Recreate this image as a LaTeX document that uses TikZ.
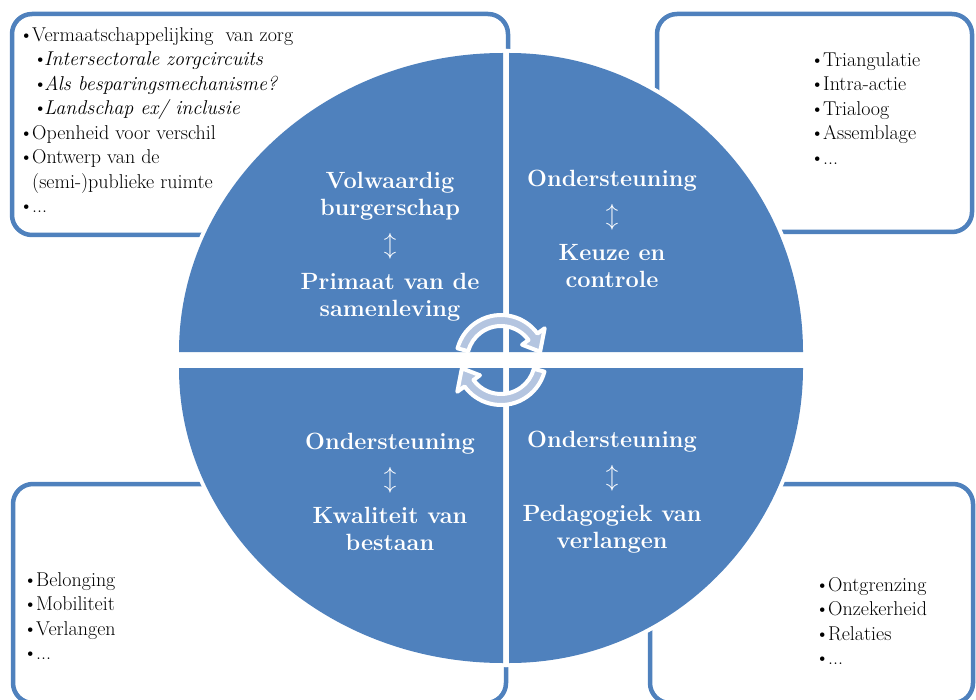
\documentclass[tikz,border=0pt]{standalone}
\usepackage{tikz}
\definecolor{quadblue}{HTML}{4F81BD}
\definecolor{cycleblue}{HTML}{B4C5E0}
\newcommand{\blt}{\makebox[13pt][l]{\textbullet}}
\newcommand{\subblt}{\hspace*{14pt}\makebox[11pt][l]{\textbullet}}
\begin{document}
\begin{tikzpicture}[x=1pt,y=-1pt]
	\tikzstyle{list box}=[draw=quadblue,line width=4.5pt,rounded corners=20pt,fill=white]
	\tikzstyle{quadrant}=[fill=quadblue,preaction={draw=white,line width=8pt}]
	\tikzstyle{quad label}=[text=white,font=\fontsize{23.5}{27}\selectfont\bfseries,align=center]
	\tikzstyle{bullet list}=[font=\fontsize{20}{24.5}\selectfont,align=left,inner sep=0pt,anchor=north west]
	\tikzstyle{cycle arrow}=[fill=cycleblue,draw=white,line width=4pt,line join=round]
	\useasboundingbox (0,0) rectangle (976,700);
	% list boxes behind the circle
	\draw[list box] (12,14) rectangle (508,235);
	\draw[list box] (657,14) rectangle (972,232);
	\draw[list box] (13,484) rectangle (506,703);
	\draw[list box] (650,484) rectangle (973,703);
	% four quadrants
	\fill[quadrant] (503,352) -- (179,352) arc[start angle=180,end angle=90,x radius=324pt,y radius=299pt] -- cycle;
	\fill[quadrant] (509,352) -- (509,53) arc[start angle=90,end angle=0,x radius=294pt,y radius=299pt] -- cycle;
	\fill[quadrant] (503,368) -- (503,663) arc[start angle=270,end angle=180,x radius=324pt,y radius=295pt] -- cycle;
	\fill[quadrant] (509,368) -- (803,368) arc[start angle=0,end angle=-90,x radius=294pt,y radius=295pt] -- cycle;
	% cycle arrows
	\coordinate (hub) at (501,360);
	\begin{scope}[shift={(hub)}]
		\path[cycle arrow] (165:45pt) arc[start angle=165,end angle=36,radius=45pt] -- (36:54pt) -- (12:40pt) -- (36:26pt) -- (36:34pt) arc[start angle=36,end angle=165,radius=34pt] -- cycle;
	\end{scope}
	\begin{scope}[shift={(hub)},rotate=180]
		\path[cycle arrow] (165:45pt) arc[start angle=165,end angle=36,radius=45pt] -- (36:54pt) -- (12:40pt) -- (36:26pt) -- (36:34pt) arc[start angle=36,end angle=165,radius=34pt] -- cycle;
	\end{scope}
	% quadrant labels
	\node[quad label] (citizen) at (390,247) {Volwaardig\\burgerschap\\[10pt]$\updownarrow$\\[10pt]Primaat van de\\samenleving};
	\node[quad label] (choice) at (612,229) {Ondersteuning\\[10pt]$\updownarrow$\\[10pt]Keuze en\\controle};
	\node[quad label] (quality) at (390,492) {Ondersteuning\\[10pt]$\updownarrow$\\[10pt]Kwaliteit van\\bestaan};
	\node[quad label] (desire) at (612,492) {Ondersteuning\\[10pt]$\updownarrow$\\[10pt]Pedagogiek van\\verlangen};
	% bullet lists
	\node[bullet list] (care list) at (19,27) {\blt Vermaatschappelijking\ \ van zorg\\
		\subblt\textit{Intersectorale zorgcircuits}\\
		\subblt\textit{Als besparingsmechanisme?}\\
		\subblt\textit{Landschap ex/ inclusie}\\
		\blt Openheid voor verschil\\
		\blt Ontwerp van de\\
		\hspace*{13pt}(semi-)publieke ruimte\\
		\blt ...};
	\node[bullet list] (method list) at (810,52) {\blt Triangulatie\\\blt Intra-actie\\\blt Trialoog\\\blt Assemblage\\\blt ...};
	\node[bullet list] (being list) at (23,572) {\blt Belonging\\\blt Mobiliteit\\\blt Verlangen\\\blt ...};
	\node[bullet list] (desire list) at (815,577) {\blt Ontgrenzing\\\blt Onzekerheid\\\blt Relaties\\\blt ...};
\end{tikzpicture}
\end{document}
